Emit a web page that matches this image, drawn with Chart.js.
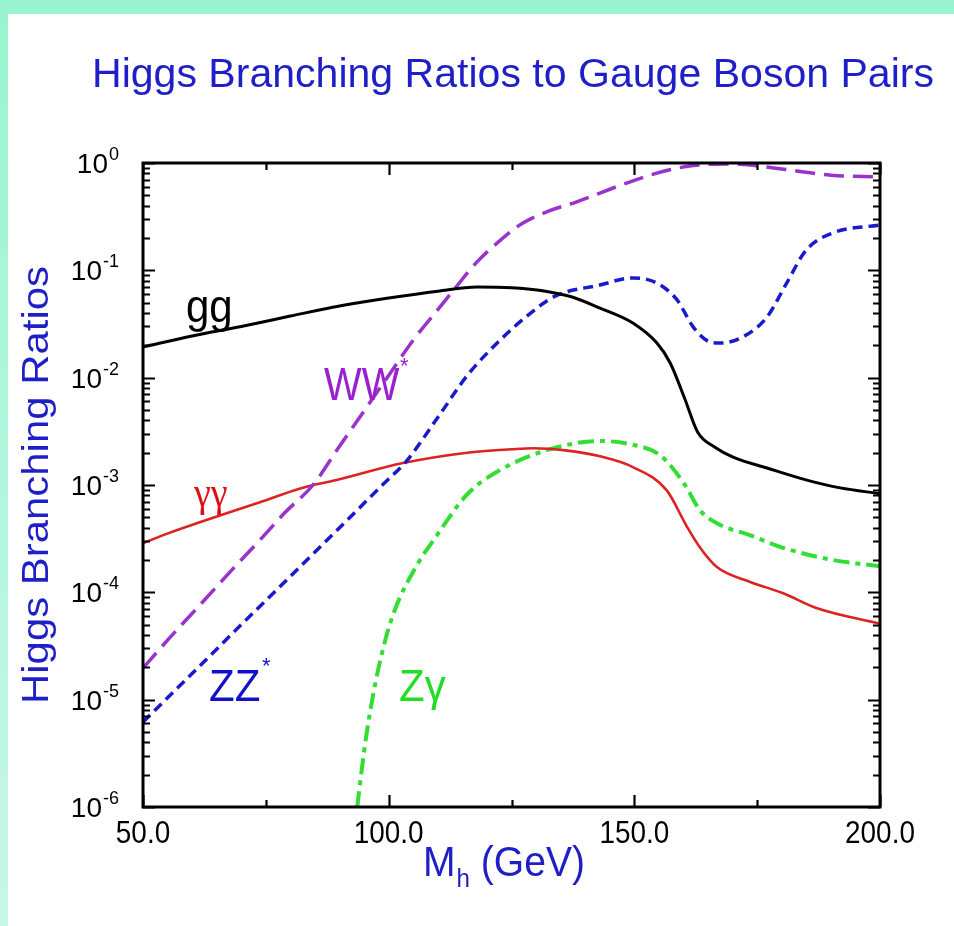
<!DOCTYPE html>
<html><head><meta charset="utf-8">
<script src="https://cdn.jsdelivr.net/npm/chart.js@4.4.1/dist/chart.umd.min.js"></script>
<style>html,body{margin:0;padding:0;background:#fff;overflow:hidden}#wrap{width:954px;height:926px;position:relative}</style>
</head><body><div id="wrap"><canvas id="c" width="954" height="926"></canvas></div>
<script>
// ---- data (Higgs mass in GeV, branching ratio) ----
const ggMass = [50,60,70,80,90,100,110,118,125,131,137,143,149.7,154.6,157.3,160.3,162.9,166.4,170.1,177,185.1,191.9,200];
const ggBR   = [0.0193,0.0244,0.030,0.0375,0.0465,0.0552,0.064,0.070,0.069,0.065,0.057,0.0445,0.0323,0.021,0.0137,0.0063,0.0031,0.00225,0.00182,0.00144,0.00111,0.00094,0.00083];

const wwMass = [50,55.5,62,68,73.8,79,84.6,90,95,100,105,110,113.5,118,122.7,127,132.8,138,143,150,157,163,170,175,180,190,200];
const wwBR   = [1.97e-5,3.8e-5,8.0e-5,1.6e-4,3.07e-4,5.6e-4,1.0e-3,2.3e-3,4.9e-3,1.05e-2,2.24e-2,4.3e-2,6.8e-2,0.12,0.19,0.27,0.36,0.43,0.525,0.69,0.86,0.958,0.98,0.94,0.88,0.77,0.74];

const zzMass = [50,60,70,80,90,100,103.3,110.5,116,122.7,128,133.9,143,149.7,154.6,158.7,162,165.4,167.4,172.1,177,181,185,190.4,200];
const zzBR   = [6.2e-6,1.75e-5,5.0e-5,1.41e-4,4.0e-4,1.14e-3,1.6e-3,4.6e-3,1.05e-2,2.24e-2,3.7e-2,5.75e-2,0.073,0.085,0.076,0.053,0.0296,0.0215,0.021,0.024,0.0367,0.076,0.155,0.223,0.265];

const aaMass = [50,55.5,62,73.8,82,90,102.9,116,125,129.4,136,143,149.7,156.6,160.7,163.4,166.8,173.6,180.3,187.2,200];
const aaBR   = [2.87e-4,3.6e-4,4.57e-4,6.9e-4,9.3e-4,1.13e-3,1.6e-3,2.0e-3,2.15e-3,2.2e-3,2.1e-3,1.85e-3,1.47e-3,8.9e-4,4.1e-4,2.6e-4,1.72e-4,1.25e-4,9.8e-5,7.1e-5,5.1e-5];

const zaMass = [93.6,95,96.2,98.2,100.9,106,109,116,122.7,132.2,143,149.7,155.2,160,163.4,166.8,173.6,180.3,190.4,200];
const zaBR   = [1.0e-6,3.3e-6,7.6e-6,2.24e-5,6.2e-5,1.87e-4,3.0e-4,8.2e-4,1.38e-3,2.11e-3,2.57e-3,2.37e-3,1.9e-3,1.05e-3,5.8e-4,4.4e-4,3.4e-4,2.6e-4,2.0e-4,1.75e-4];

const xTickValues = [50,100,150,200];
const xTickLabels = ['50.0','100.0','150.0','200.0'];
const xMinorTicks = [75,125,175];
const yTickExponents = [0,-1,-2,-3,-4,-5,-6];

const titleText = 'Higgs Branching Ratios to Gauge Boson Pairs';
const yTitleText = 'Higgs Branching Ratios';

function pts(m, v){ return m.map((x,i)=>({x:x, y:v[i]})); }

const SANS = '"Liberation Sans", Arial, Helvetica, sans-serif';
const SERIF = '"Liberation Serif", "Times New Roman", serif';
const BLUE = '#1f1fc8';

function stretchedText(ctx, txt, x, y, sx, sy){
  ctx.save();
  ctx.translate(x, y);
  ctx.scale(sx, sy);
  ctx.fillText(txt, 0, 0);
  ctx.restore();
}

const deco = {
  id: 'deco',
  beforeDraw(chart){
    const ctx = chart.ctx;
    ctx.save();
    ctx.fillStyle = '#ffffff';
    ctx.fillRect(0,0,chart.width,chart.height);
    const g = ctx.createLinearGradient(0,0,0,chart.height);
    g.addColorStop(0,'#98f5d0'); g.addColorStop(1,'#c8f7e7');
    ctx.fillStyle = g;
    ctx.fillRect(0,0,8,chart.height);
    ctx.fillStyle = '#98f5d0';
    ctx.fillRect(0,0,chart.width,14);
    ctx.restore();
  },
  afterDraw(chart){
    const ctx = chart.ctx, a = chart.chartArea;
    const xs = chart.scales.x, ys = chart.scales.y;
    ctx.save();
    // frame
    ctx.strokeStyle = '#000'; ctx.lineWidth = 3;
    ctx.strokeRect(a.left, a.top, a.right-a.left, a.bottom-a.top);
    // y ticks (inward, both sides)
    ctx.lineWidth = 2.2;
    ctx.beginPath();
    for (let e=-6; e<=0; e++){
      for (let k=1; k<=9; k++){
        const v = k*Math.pow(10,e);
        if (v > 1.0000001) break;
        const y = Math.round(ys.getPixelForValue(v))+0.5;
        const len = k===1 ? 12 : 7;
        ctx.moveTo(a.left, y); ctx.lineTo(a.left+len, y);
        ctx.moveTo(a.right, y); ctx.lineTo(a.right-len, y);
      }
    }
    // x ticks (inward, top and bottom)
    xTickValues.concat(xMinorTicks).forEach(m=>{
      const x = Math.round(xs.getPixelForValue(m))+0.5;
      const len = xTickValues.includes(m) ? 12 : 7;
      ctx.moveTo(x, a.bottom); ctx.lineTo(x, a.bottom-len);
      ctx.moveTo(x, a.top); ctx.lineTo(x, a.top+len);
    });
    ctx.stroke();

    // y tick labels 10^n
    ctx.fillStyle = '#000';
    ctx.textBaseline = 'alphabetic';
    yTickExponents.forEach(e=>{
      const y = ys.getPixelForValue(Math.pow(10,e));
      const exp = String(e);
      ctx.font = '18px ' + SANS;
      const ew = ctx.measureText(exp).width;
      ctx.textAlign = 'right';
      ctx.fillText(exp, 119, y-3);
      ctx.font = '28px ' + SANS;
      ctx.fillText('10', 119-ew-1, y+10);
    });
    // x tick labels
    ctx.font = '31px ' + SANS;
    ctx.textAlign = 'center';
    xTickValues.forEach((m,i)=>{
      stretchedText(ctx, xTickLabels[i], xs.getPixelForValue(m), 843, 0.9, 1);
    });

    // title
    ctx.fillStyle = BLUE;
    ctx.font = '40px ' + SANS;
    ctx.textAlign = 'left';
    const tw = ctx.measureText(titleText).width;
    stretchedText(ctx, titleText, 92, 87, 842/tw, 1.03);

    // y axis title (rotated)
    ctx.font = '37px ' + SANS;
    const yw = ctx.measureText(yTitleText).width;
    ctx.save();
    ctx.translate(48, 485);
    ctx.rotate(-Math.PI/2);
    ctx.scale(438/yw, 1);
    ctx.textAlign = 'center';
    ctx.fillText(yTitleText, 0, 0);
    ctx.restore();

    // x axis title M_h (GeV)
    ctx.textAlign = 'left';
    ctx.font = '42px ' + SANS;
    let x0 = 423;
    const sx = 0.93;
    stretchedText(ctx, 'M', x0, 876, sx, 1);
    x0 += ctx.measureText('M').width*sx;
    ctx.font = '26px ' + SANS;
    stretchedText(ctx, 'h', x0+1, 887, sx, 1);
    x0 += ctx.measureText('h').width*sx + 1;
    ctx.font = '42px ' + SANS;
    stretchedText(ctx, ' (GeV)', x0, 876, sx, 1);

    // curve labels
    ctx.font = '42px ' + SANS;
    ctx.fillStyle = '#000';
    stretchedText(ctx, 'gg', 186, 322, 1, 1.08);
    ctx.fillStyle = '#9922cc';
    stretchedText(ctx, 'WW', 324, 400, 0.95, 1.1);
    ctx.font = '22px ' + SANS;
    ctx.fillText('*', 400, 373);
    ctx.fillStyle = '#1111cc';
    ctx.font = '42px ' + SANS;
    stretchedText(ctx, 'ZZ', 209, 701, 1, 1.06);
    ctx.font = '22px ' + SANS;
    ctx.fillText('*', 262, 673);
    ctx.fillStyle = '#22dd22';
    ctx.font = '42px ' + SANS;
    stretchedText(ctx, 'Z\u03B3', 399, 701, 1, 1.06);
    ctx.fillStyle = '#dd1111';
    ctx.font = '40px ' + SERIF;
    stretchedText(ctx, '\u03B3\u03B3', 194, 506, 0.95, 1.08);
    ctx.restore();
  }
};

new Chart(document.getElementById('c'), {
  type: 'line',
  data: {
    datasets: [
      { label:'gg', data: pts(ggMass, ggBR), borderColor:'#000000', borderWidth:3 },
      { label:'WW*', data: pts(wwMass, wwBR), borderColor:'#9933cc', borderWidth:3.5, borderDash:[20,9] },
      { label:'ZZ*', data: pts(zzMass, zzBR), borderColor:'#1a1acc', borderWidth:3.5, borderDash:[10,6] },
      { label:'\u03B3\u03B3', data: pts(aaMass, aaBR), borderColor:'#dd2222', borderWidth:2.6 },
      { label:'Z\u03B3', data: pts(zaMass, zaBR), borderColor:'#33dd33', borderWidth:4, borderDash:[16,6,5,6] }
    ]
  },
  options: {
    responsive: false,
    animation: false,
    devicePixelRatio: 1,
    layout: { padding: { left:143, top:163, right:74, bottom:119 } },
    elements: { point: { radius: 0 }, line: { cubicInterpolationMode: 'monotone', fill: false } },
    scales: {
      x: { type:'linear', min:50, max:200, display:false },
      y: { type:'logarithmic', min:1e-6, max:1, display:false }
    },
    plugins: { legend:{display:false}, tooltip:{enabled:false}, title:{display:false} }
  },
  plugins: [deco]
});
</script>
</body></html>
